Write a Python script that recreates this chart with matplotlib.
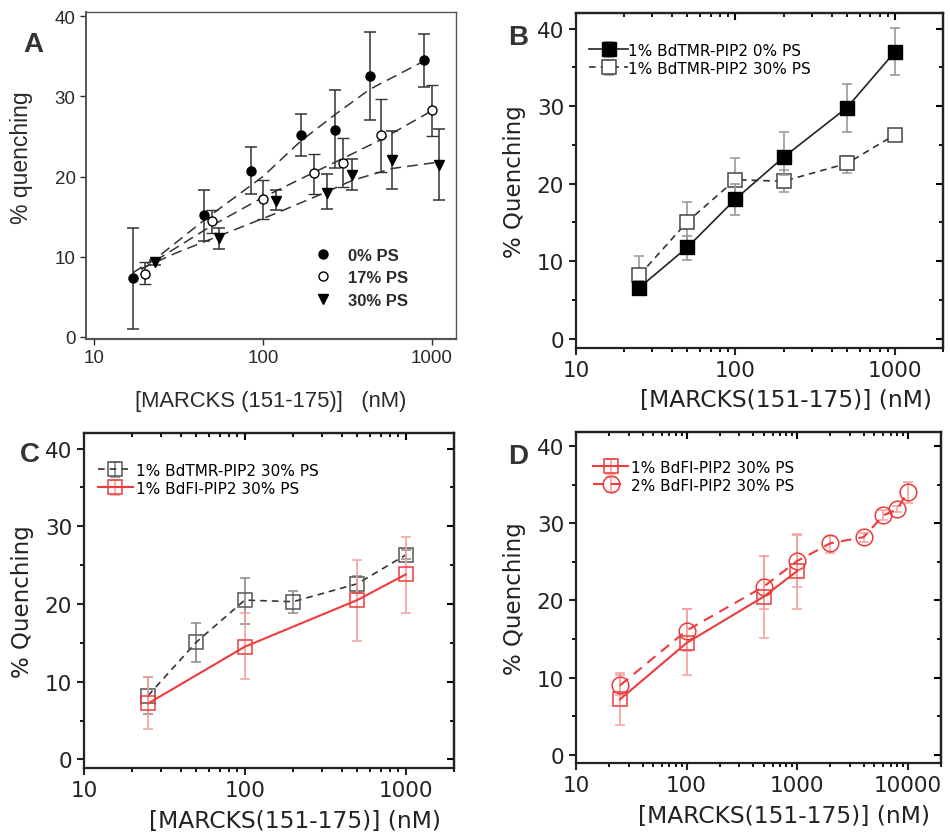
import numpy as np
import matplotlib
matplotlib.use("Agg")
import matplotlib.pyplot as plt
from matplotlib.ticker import FixedLocator, NullFormatter, LogLocator

# ---------------- Panel A data ----------------
a0_x = [17, 45, 85, 167, 268, 431, 893]
a0_y = [7.3, 15.2, 20.7, 25.2, 25.8, 32.5, 34.5]
a0_lo = [1.0, 12.0, 17.8, 22.6, 21.1, 27.0, 31.1]
a0_hi = [13.6, 18.3, 23.7, 27.8, 30.8, 38.0, 37.8]

a17_x = [20, 50, 100, 200, 297, 497, 1000]
a17_y = [7.9, 14.5, 17.2, 20.4, 21.7, 25.2, 28.3]
a17_lo = [6.6, 13.0, 14.7, 17.8, 18.7, 20.5, 25.0]
a17_hi = [9.3, 15.8, 19.6, 22.8, 24.8, 29.7, 31.4]

a30_x = [23, 55, 119, 239, 336, 582, 1099]
a30_y = [9.3, 12.3, 16.9, 18.0, 20.2, 22.1, 21.4]
a30_lo = [9.0, 11.0, 15.8, 16.0, 18.3, 18.5, 17.1]
a30_hi = [9.6, 13.6, 18.3, 20.3, 22.2, 25.7, 25.9]

fit0_x = [17, 25, 47, 100, 167, 270, 431, 900]
fit0_y = [8.0, 10.3, 14.9, 20.0, 24.4, 27.8, 30.9, 34.4]
fit17_x = [19, 30, 50, 100, 200, 300, 500, 1000]
fit17_y = [8.4, 11.0, 13.9, 17.4, 20.5, 22.3, 24.6, 28.2]
fit30_x = [19, 30, 55, 119, 239, 336, 582, 1100]
fit30_y = [8.5, 10.4, 12.6, 15.4, 18.1, 19.5, 21.0, 21.8]

# ---------------- Panel B / C / D data ----------------
conc6 = [25, 50, 100, 200, 500, 1000]
tmr0_y = [6.6, 11.8, 18.0, 23.4, 29.8, 37.0]
tmr0_lo = [5.8, 10.1, 16.0, 21.1, 26.7, 34.0]
tmr0_hi = [7.4, 13.3, 20.0, 26.7, 32.8, 40.1]

tmr30_y = [8.2, 15.1, 20.5, 20.3, 22.6, 26.3]
tmr30_lo = [5.9, 12.6, 17.4, 18.9, 21.4, 25.8]
tmr30_hi = [10.6, 17.6, 23.3, 21.7, 23.6, 26.9]

conc4 = [25, 100, 500, 1000]
fl1_y = [7.2, 14.5, 20.5, 23.8]
fl1_lo = [3.9, 10.3, 15.2, 18.9]
fl1_hi = [10.6, 18.9, 25.7, 28.6]

conc_fl2 = [25, 100, 500, 1000, 2000, 4000, 6000, 8000, 10000]
fl2_y = [9.0, 16.1, 21.8, 25.1, 27.4, 28.2, 31.0, 31.8, 34.0]
fl2_lo = [7.8, 13.5, 18.9, 21.8, 26.2, 27.6, 30.4, 31.4, 32.6]
fl2_hi = [10.3, 18.9, 25.8, 28.5, 28.4, 28.7, 31.7, 32.2, 35.3]

legend_b = ["1% BdTMR-PIP2 0% PS", "1% BdTMR-PIP2 30% PS"]
legend_c = ["1% BdTMR-PIP2 30% PS", "1% BdFl-PIP2 30% PS"]
legend_d = ["1% BdFl-PIP2 30% PS", "2% BdFl-PIP2 30% PS"]
legend_a = ["0% PS", "17% PS", "30% PS"]

RED = "#ee3b3b"
RED_ERR = "#f4a0a0"


def yerr(y, lo, hi):
    y = np.asarray(y); lo = np.asarray(lo); hi = np.asarray(hi)
    return np.vstack([y - lo, hi - y])


fig = plt.figure(figsize=(9.5, 8.37), dpi=100)

# ======================= Panel A =======================
axA = fig.add_axes([86/950, 1-340/837, 370/950, 327/837])
AF = "Liberation Sans"
acol = "#2a2a2a"
dash = (0, (7, 4))
for fx, fy in [(fit0_x, fit0_y), (fit17_x, fit17_y), (fit30_x, fit30_y)]:
    axA.plot(fx, fy, color="#333333", lw=1.1, linestyle=dash, zorder=1)
kw = dict(capsize=4, elinewidth=1.1, capthick=1.1, ecolor="#333333", linestyle="none", zorder=3)
axA.errorbar(a0_x, a0_y, yerr=yerr(a0_y, a0_lo, a0_hi), marker="o", ms=6.5,
             mfc="black", mec="black", **kw)
axA.errorbar(a17_x, a17_y, yerr=yerr(a17_y, a17_lo, a17_hi), marker="o", ms=6.5,
             mfc="white", mec="black", mew=1.0, **kw)
axA.errorbar(a30_x, a30_y, yerr=yerr(a30_y, a30_lo, a30_hi), marker="v", ms=6.5,
             mfc="black", mec="black", **kw)
axA.set_xscale("log")
axA.set_xlim(8.97, 1387)
axA.set_ylim(-0.25, 40.5)
axA.xaxis.set_major_locator(FixedLocator([10, 100, 1000]))
axA.xaxis.set_minor_locator(FixedLocator([]))
axA.set_xticklabels(["10", "100", "1000"])
axA.set_yticks([0, 10, 20, 30, 40])
axA.tick_params(direction="out", length=4, width=1.0, colors=acol, labelsize=13.5,
                top=False, right=False)
for lab in axA.get_xticklabels() + axA.get_yticklabels():
    lab.set_family(AF)
    lab.set_color(acol)
for s in axA.spines.values():
    s.set_color("#555555")
    s.set_linewidth(1.0)
axA.spines["bottom"].set_linewidth(1.6)
axA.spines["left"].set_linewidth(1.4)
axA.set_ylabel("% quenching", family=AF, fontsize=16.5, color=acol)
axA.yaxis.set_label_coords(-0.143, 0.557)
axA.set_xlabel("[MARCKS (151-175)]   (nM)", family=AF, fontsize=15.8, color=acol, labelpad=17)
# legend for A
hA = [plt.Line2D([], [], marker="o", color="black", ls="none", ms=6.5),
      plt.Line2D([], [], marker="o", mfc="white", mec="black", ls="none", ms=6.5),
      plt.Line2D([], [], marker="v", color="black", ls="none", ms=6.5)]
legA = axA.legend(hA, legend_a, loc="upper left", bbox_to_anchor=(0.60, 0.30),
                  frameon=False, handletextpad=1.0, labelspacing=0.45, borderaxespad=0,
                  prop={"family": AF, "size": 12, "weight": "bold"}, handlelength=1.0)
for t in legA.get_texts():
    t.set_color(acol)
fig.text(33/950, 1-45/837, "A", family=AF, fontsize=20, fontweight="bold", color="#333333",
         ha="center", va="center")


def style_origin(ax, xmajor, xmin, xmax, ymin, ymax, xlab_y):
    ax.set_xscale("log")
    ax.set_xlim(xmin, xmax)
    ax.set_ylim(ymin, ymax)
    ax.xaxis.set_major_locator(FixedLocator(xmajor))
    ax.xaxis.set_minor_locator(LogLocator(base=10, subs=np.arange(2, 10)))
    ax.xaxis.set_minor_formatter(NullFormatter())
    ax.set_xticklabels([str(v) for v in xmajor])
    ax.set_yticks([0, 10, 20, 30, 40])
    ax.set_yticks([5, 15, 25, 35], minor=True)
    ax.tick_params(which="major", direction="out", length=5, width=1.5, labelsize=15.5,
                   colors="#222222", top=False, right=False)
    ax.tick_params(which="minor", direction="out", length=3, width=1.3, top=False, right=False)
    for s in ax.spines.values():
        s.set_linewidth(1.6)
        s.set_color("#222222")
    # mirrored inward ticks on top and right
    sx = ax.secondary_xaxis("top")
    sx.xaxis.set_major_locator(FixedLocator(xmajor))
    sx.xaxis.set_minor_locator(LogLocator(base=10, subs=np.arange(2, 10)))
    sx.xaxis.set_major_formatter(NullFormatter())
    sx.xaxis.set_minor_formatter(NullFormatter())
    sx.tick_params(which="major", direction="in", length=5, width=1.5)
    sx.tick_params(which="minor", direction="in", length=3, width=1.3)
    sy = ax.secondary_yaxis("right")
    sy.yaxis.set_major_locator(FixedLocator([0, 10, 20, 30, 40]))
    sy.yaxis.set_minor_locator(FixedLocator([5, 15, 25, 35]))
    sy.yaxis.set_major_formatter(NullFormatter())
    sy.tick_params(which="major", direction="in", length=5, width=1.5)
    sy.tick_params(which="minor", direction="in", length=3, width=1.3)
    for sec in (sx, sy):
        for s in sec.spines.values():
            s.set_linewidth(1.6)
            s.set_color("#222222")
    ax.set_ylabel("% Quenching", fontsize=16.5, color="#222222", labelpad=8)
    ax.set_xlabel("[MARCKS(151-175)] (nM)", fontsize=16.8, color="#222222")
    ax.xaxis.set_label_coords(0.571, xlab_y)


plt.rcParams["font.family"] = ["DejaVu Sans"]

# ======================= Panel B =======================
axB = fig.add_axes([576/950, 1-349/837, 367/950, 335/837])
axB.errorbar(conc6, tmr30_y, yerr=yerr(tmr30_y, tmr30_lo, tmr30_hi), color="#333333",
             ls=(0, (4, 3)), lw=1.2, marker="s", ms=10, mfc="white", mec="#444444", mew=1.1,
             ecolor="#999999", elinewidth=1.2, capsize=3.5, capthick=1.2, zorder=2,
             label=legend_b[1])
axB.errorbar(conc6, tmr0_y, yerr=yerr(tmr0_y, tmr0_lo, tmr0_hi), color="#222222",
             ls="-", lw=1.2, marker="s", ms=10, mfc="black", mec="black",
             ecolor="#999999", elinewidth=1.2, capsize=3.5, capthick=1.2, zorder=3,
             label=legend_b[0])
style_origin(axB, [10, 100, 1000], 10, 2000, -1.2, 42, -0.118)
h, l = axB.get_legend_handles_labels()
axB.legend([h[1], h[0]], [l[1], l[0]], loc="upper left", bbox_to_anchor=(0.02, 0.93),
           frameon=False, fontsize=11, handlelength=2.5, handletextpad=0.05,
           labelspacing=0.2, borderaxespad=0)
fig.text(518/950, 1-38/837, "B", fontsize=20, fontweight="bold", color="#333333",
         ha="center", va="center", family="Liberation Sans")

# ======================= Panel C =======================
axC = fig.add_axes([84/950, 1-769/837, 370/950, 335/837])
axC.errorbar(conc6, tmr30_y, yerr=yerr(tmr30_y, tmr30_lo, tmr30_hi), color="#333333",
             ls=(0, (4, 3)), lw=1.2, marker="s", ms=10, mfc="none", mec="#555555", mew=1.1,
             ecolor="#888888", elinewidth=1.2, capsize=3.5, capthick=1.2, zorder=2,
             label=legend_c[0])
axC.errorbar(conc4, fl1_y, yerr=yerr(fl1_y, fl1_lo, fl1_hi), color=RED,
             ls="-", lw=1.5, marker="s", ms=10, mfc="none", mec=RED, mew=1.1,
             ecolor=RED_ERR, elinewidth=1.2, capsize=3.5, capthick=1.2, zorder=3,
             label=legend_c[1])
style_origin(axC, [10, 100, 1000], 10, 2000, -1.1, 42, -0.122)
axC.legend(loc="upper left", bbox_to_anchor=(0.02, 0.93), frameon=False, fontsize=11,
           handlelength=2.3, handletextpad=0.2, labelspacing=0.2, borderaxespad=0)
fig.text(30/950, 1-455/837, "C", fontsize=20, fontweight="bold", color="#333333",
         ha="center", va="center", family="Liberation Sans")

# ======================= Panel D =======================
axD = fig.add_axes([576/950, 1-764/837, 365/950, 331/837])
axD.errorbar(conc4, fl1_y, yerr=yerr(fl1_y, fl1_lo, fl1_hi), color=RED,
             ls="-", lw=1.5, marker="s", ms=10, mfc="none", mec=RED, mew=1.1,
             ecolor=RED_ERR, elinewidth=1.2, capsize=3.5, capthick=1.2, zorder=3,
             label=legend_d[0])
axD.errorbar(conc_fl2, fl2_y, yerr=yerr(fl2_y, fl2_lo, fl2_hi), color=RED,
             ls=(0, (5, 3.5)), lw=1.5, marker="o", ms=12, mfc="none", mec=RED, mew=1.1,
             ecolor=RED_ERR, elinewidth=1.2, capsize=3.5, capthick=1.2, zorder=3,
             label=legend_d[1])
style_origin(axD, [10, 100, 1000, 10000], 10, 20000, -1.04, 41.8, -0.125)
axD.legend(loc="upper left", bbox_to_anchor=(0.03, 0.935), frameon=False, fontsize=11,
           handlelength=2.3, handletextpad=0.2, labelspacing=0.2, borderaxespad=0)
fig.text(518/950, 1-457/837, "D", fontsize=20, fontweight="bold", color="#333333",
         ha="center", va="center", family="Liberation Sans")

fig.savefig("out.png", dpi=100)
